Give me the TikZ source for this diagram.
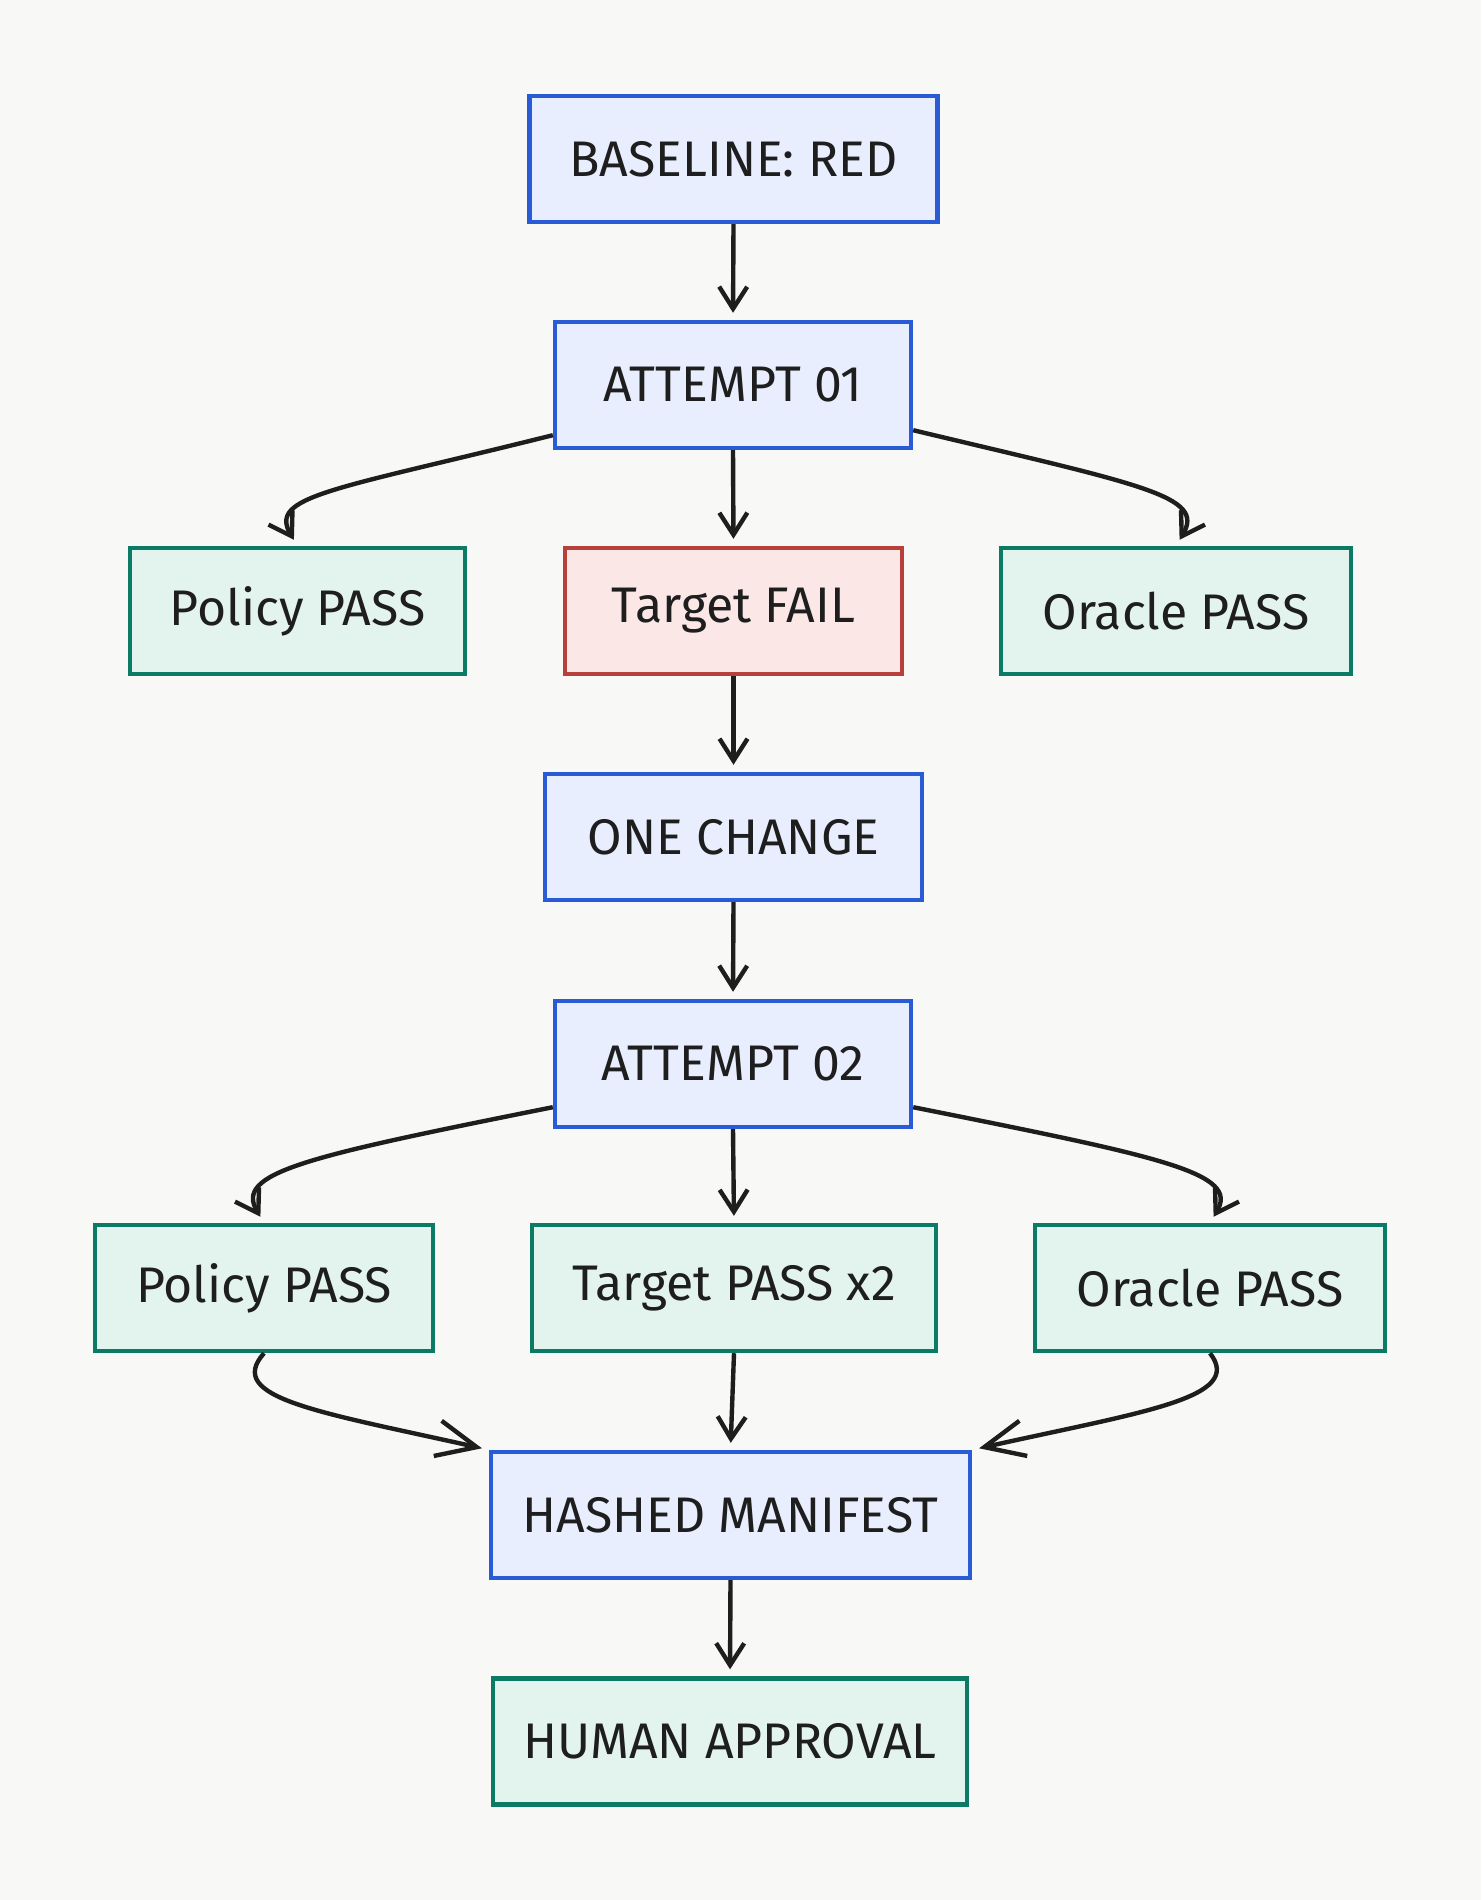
\documentclass[tikz,border=0pt]{standalone}
\usepackage{fontspec}
\setmainfont{Fira Sans}
\usetikzlibrary{arrows.meta}
\definecolor{bgcol}{HTML}{F8F8F6}
\definecolor{ink}{HTML}{1E1E1E}
\definecolor{bluestroke}{HTML}{2A5BD7}
\definecolor{bluefill}{HTML}{E8EEFD}
\definecolor{greenstroke}{HTML}{0B7B66}
\definecolor{greenfill}{HTML}{E3F4EE}
\definecolor{redstroke}{HTML}{B8403A}
\definecolor{redfill}{HTML}{FBE8E6}

\begin{document}
\begin{tikzpicture}[x=1pt,y=-1pt,
  box/.style={draw, line width=4.4pt, minimum height=126pt, inner sep=0pt,
    text=ink, font=\fontsize{50}{60}\selectfont},
  stepbox/.style={box, draw=bluestroke, fill=bluefill},
  passbox/.style={box, draw=greenstroke, fill=greenfill},
  failbox/.style={box, draw=redstroke, fill=redfill},
  flow/.style={draw=ink, line width=4.4pt, shorten >=7pt,
    -{Straight Barb[length=22pt,width=28pt]}},
  merge/.style={flow, -{Straight Barb[length=40pt,width=36pt]}}
]
% Background
\fill[bgcol] (0,0) rectangle (1481,1900);
% Main line of steps
\node[stepbox, minimum width=408pt] (base) at (733.5,159) {BASELINE: RED};
\node[stepbox, minimum width=356pt] (att1) at (733,385) {ATTEMPT 01};
\node[stepbox, minimum width=377pt] (change) at (733.5,837) {ONE CHANGE};
\node[stepbox, minimum width=356pt] (att2) at (733,1064) {ATTEMPT 02};
\node[stepbox, minimum width=479pt] (hash) at (730.5,1515) {HASHED MANIFEST};
\node[passbox, minimum width=474pt] (human) at (730,1741.5) {HUMAN APPROVAL};
% Checks of attempt 01
\node[passbox, minimum width=335pt] (pol1) at (297.5,611) {Policy PASS};
\node[failbox, minimum width=337pt] (tfail) at (733.5,611) {Target FAIL};
\node[passbox, minimum width=350pt] (ora1) at (1176,611) {Oracle PASS};
% Checks of attempt 02
\node[passbox, minimum width=338pt] (pol2) at (264,1288) {Policy PASS};
\node[passbox, minimum width=404pt] (tpass) at (734,1288) {Target PASS x2};
\node[passbox, minimum width=350pt] (ora2) at (1210,1288) {Oracle PASS};
% Straight arrows
\draw[flow] (base.south) -- (att1.north);
\draw[flow] (att1.south) -- (tfail.north);
\draw[flow] (tfail.south) -- (change.north);
\draw[flow] (change.south) -- (att2.north);
\draw[flow] (att2.south) -- (tpass.north);
\draw[flow] (tpass.south) -- (hash.north);
\draw[flow] (hash.south) -- (human.north);
% Curved arrows to the side checks
\draw[flow] ([yshift=15pt]att1.south west) .. controls +(-220,55) and +(-30,-50) .. (pol1.north);
\draw[flow] ([yshift=20pt]att1.south east) .. controls +(230,55) and +(30,-50) .. (ora1.north);
\draw[flow] ([yshift=22pt]att2.south west) .. controls +(-250,50) and +(-30,-50) .. (pol2.north);
\draw[flow] ([yshift=22pt]att2.south east) .. controls +(250,50) and +(30,-50) .. (ora2.north);
% Side checks into the manifest
\draw[merge] (pol2.south) .. controls +(-40,45) and +(-170,-38) .. (hash.north west);
\draw[merge] (ora2.south) .. controls +(35,45) and +(170,-38) .. (hash.north east);
\end{tikzpicture}
\end{document}
